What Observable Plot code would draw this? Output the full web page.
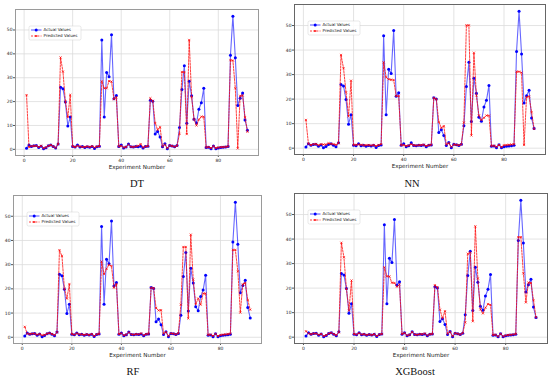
<!DOCTYPE html>
<html>
<head>
<meta charset="utf-8">
<script src="https://cdn.jsdelivr.net/npm/d3@7"></script>
<script src="https://cdn.jsdelivr.net/npm/@observablehq/plot@0.6"></script>
<style>
  html, body { margin: 0; padding: 0; background: #fff; }
  #root { position: relative; width: 550px; height: 379px; background: #fff; overflow: hidden; }
  .panel { position: absolute; }
  .cap { position: absolute; font-family: "Liberation Serif", "Times New Roman", serif; font-size: 10.5px; color: #111; transform: translate(-50%, -50%); white-space: nowrap; }
</style>
</head>
<body>
<div id="root"></div>
<script>
// Experiment numbers 1..92
const experiments = d3.range(1, 93);

const actualValues = [
  0.5, 1.8, 1.2, 1.5, 1.6, 0.8, 1.3, 0.2, 0.7, 1.5,
  1.8, 1.2, 0.6, 2.2, 26.0, 25.4, 19.8, 9.8, 13.6, 1.2,
  1.0, 1.8, 1.0, 1.2, 0.8, 1.1, 0.9, 1.2, 0.3, 1.1,
  1.3, 45.8, 13.6, 32.2, 30.4, 48.0, 21.2, 22.6, 1.2, 1.8,
  0.6, 1.0, 2.2, 1.1, 1.0, 1.2, 1.1, 1.3, 0.6, 1.2,
  1.3, 20.6, 20.1, 6.4, 7.5, 5.2, 1.1, 2.3, 0.2, 1.6,
  1.4, 1.1, 1.6, 9.1, 25.1, 35.0, 10.9, 28.5, 22.4, 12.6,
  11.0, 16.8, 19.5, 25.6, 0.8, 0.9, 0.2, 1.4, 0.2, 0.6,
  0.8, 0.9, 1.0, 1.2, 39.4, 55.8, 38.4, 18.4, 21.4, 23.6,
  12.3, 8.0
];

const predictedDT = [
  22.7, 1.0, 1.3, 1.4, 1.5, 1.0, 1.5, 0.5, 0.8, 1.5,
  1.8, 1.2, 0.7, 2.2, 38.5, 32.5, 20.0, 13.5, 22.8, 1.2,
  1.0, 1.5, 1.2, 1.0, 1.0, 1.2, 1.0, 1.3, 0.8, 1.2,
  1.3, 28.5, 25.6, 25.6, 28.6, 28.4, 21.0, 21.8, 1.2, 1.5,
  0.8, 1.0, 2.0, 1.1, 1.0, 1.2, 1.5, 2.2, 0.8, 1.2,
  1.3, 21.4, 20.3, 11.0, 8.2, 9.3, 1.2, 2.0, 0.5, 1.6,
  1.4, 1.1, 1.5, 6.5, 32.4, 32.4, 6.4, 45.8, 21.9, 12.5,
  10.0, 12.5, 13.7, 13.6, 0.8, 1.0, 0.5, 1.3, 0.5, 0.8,
  0.9, 1.0, 1.0, 1.2, 37.4, 37.2, 25.6, 0.4, 22.4, 22.6,
  13.5, 7.4
];

const predictedNN = [
  11.5, 1.8, 1.3, 1.6, 1.7, 1.2, 1.6, 1.5, 1.5, 2.0,
  1.8, 1.6, 1.4, 2.0, 38.0, 32.6, 22.8, 13.0, 27.5, 1.3,
  1.4, 1.5, 1.4, 1.2, 1.2, 1.3, 1.1, 1.3, 0.9, 1.3,
  1.6, 35.0, 28.9, 28.1, 27.9, 27.8, 21.3, 21.3, 1.2, 1.3,
  0.9, 1.1, 1.6, 1.2, 1.1, 1.2, 1.3, 1.4, 0.9, 1.2,
  1.4, 20.5, 20.0, 10.7, 8.3, 9.0, 1.5, 2.0, 0.6, 1.5,
  1.4, 1.2, 1.5, 10.5, 50.1, 50.1, 5.2, 38.9, 21.5, 13.3,
  11.5, 12.4, 13.3, 13.3, 0.9, 1.0, 0.6, 1.3, 0.5, 1.2,
  1.3, 1.4, 1.5, 1.6, 31.2, 31.2, 30.8, 1.3, 20.8, 21.1,
  14.7, 7.9
];

const predictedRF = [
  4.3, 1.5, 1.3, 1.5, 1.5, 1.1, 1.3, 0.8, 1.0, 1.5,
  1.7, 1.3, 0.9, 2.0, 36.0, 33.6, 20.1, 16.0, 22.0, 1.3,
  1.1, 1.6, 1.2, 1.2, 1.0, 1.2, 1.0, 1.3, 0.6, 1.2,
  1.4, 31.3, 26.1, 28.3, 30.0, 29.4, 20.5, 22.0, 1.3, 1.6,
  0.8, 1.1, 2.0, 1.2, 1.1, 1.3, 1.2, 1.6, 0.8, 1.3,
  1.4, 20.5, 20.3, 12.1, 11.1, 11.2, 1.5, 2.1, 0.6, 1.6,
  1.5, 1.2, 1.6, 13.5, 37.3, 37.3, 7.8, 42.4, 23.8, 13.7,
  16.0, 13.5, 18.1, 18.1, 1.0, 1.1, 0.6, 1.4, 0.5, 0.9,
  1.1, 1.2, 1.3, 1.5, 36.1, 36.1, 27.3, 10.2, 21.9, 22.4,
  15.4, 11.4
];

const predictedXGB = [
  2.4, 1.5, 1.2, 1.5, 1.5, 1.0, 1.3, 0.5, 0.8, 1.5,
  1.8, 1.2, 0.8, 2.0, 38.5, 32.6, 19.7, 10.9, 23.1, 1.3,
  1.1, 1.6, 1.1, 1.2, 0.9, 1.1, 0.9, 1.2, 0.5, 1.1,
  1.3, 28.5, 24.8, 24.8, 22.2, 22.1, 20.6, 21.5, 1.3, 1.7,
  0.7, 1.0, 2.1, 1.1, 1.0, 1.2, 1.2, 1.5, 0.7, 1.2,
  1.3, 21.2, 20.4, 11.2, 7.7, 10.6, 1.4, 2.2, 0.4, 1.6,
  1.4, 1.1, 1.6, 6.0, 34.0, 34.5, 6.5, 45.2, 24.0, 11.3,
  9.7, 12.0, 13.5, 13.2, 0.9, 1.0, 0.3, 1.4, 0.3, 0.7,
  0.9, 1.0, 1.1, 1.3, 40.8, 40.8, 26.0, 14.2, 22.3, 22.1,
  15.1, 8.1
];

const xTicks = [0, 20, 40, 60, 80];
const yTicks = [0, 10, 20, 30, 40, 50];
const modelNames = ["DT", "NN", "RF", "XGBoost"];
const legendLabels = ["Actual Values", "Predicted Values"];
const xLabel = "Experiment Number";

const panels = [
  {name: modelNames[0], pred: predictedDT, left: 0, top: 0, ml: 15, mr: 17, mt: 9, mb: 17, frame: "#9a9a9a", capX: 137, capY: 183},
  {name: modelNames[1], pred: predictedNN, left: 275, top: 0, ml: 19, mr: 5, mt: 4, mb: 18, frame: "#666", capX: 412, capY: 183},
  {name: modelNames[2], pred: predictedRF, left: 0, top: 190, ml: 13, mr: 14, mt: 5, mb: 19, frame: "#9a9a9a", capX: 133, capY: 371},
  {name: modelNames[3], pred: predictedXGB, left: 275, top: 190, ml: 19, mr: 3, mt: 3, mb: 19, frame: "#666", capX: 415, capY: 371}
];

const root = document.getElementById("root");
const W = 275, H = 172;

for (const p of panels) {
  const data = experiments.map((n, i) => ({n, a: actualValues[i], p: p.pred[i]}));
  const all = actualValues.concat(p.pred);
  const [lo, hi] = d3.extent(all);
  const r = hi - lo;
  const xr = experiments[experiments.length - 1] - experiments[0];
  const svg = Plot.plot({
    width: W, height: H,
    marginLeft: p.ml, marginRight: p.mr, marginTop: p.mt, marginBottom: p.mb,
    style: {fontFamily: "DejaVu Sans", fontSize: "4.5px", color: "#222", background: "transparent", overflow: "visible"},
    x: {domain: [experiments[0] - 0.05 * xr, experiments[experiments.length - 1] + 0.05 * xr]},
    y: {domain: [lo - 0.05 * r, hi + 0.05 * r]},
    marks: [
      Plot.gridX(xTicks, {stroke: "#dcdcdc", strokeOpacity: 1, strokeWidth: 0.8}),
      Plot.gridY(yTicks, {stroke: "#dcdcdc", strokeOpacity: 1, strokeWidth: 0.8}),
      Plot.axisX(xTicks, {tickSize: 2, tickPadding: 1.2, fontSize: 4.5, label: null, stroke: "#555"}),
      Plot.axisY(yTicks, {tickSize: 2, tickPadding: 1, fontSize: 4.5, label: null, stroke: "#555"}),
      Plot.line(data, {x: "n", y: "a", stroke: "blue", strokeOpacity: 0.6, strokeWidth: 1.1}),
      Plot.dot(data, {x: "n", y: "a", fill: "blue", r: 1.5}),
      Plot.line(data, {x: "n", y: "p", stroke: "red", strokeOpacity: 0.75, strokeWidth: 1, strokeDasharray: "2,1.2"}),
      Plot.dot(data, {x: "n", y: "p", symbol: "times", stroke: "red", strokeOpacity: 0.85, r: 1.1, strokeWidth: 0.8}),
      Plot.frame({stroke: p.frame, strokeWidth: 1}),
      Plot.text([xLabel], {frameAnchor: "bottom", lineAnchor: "middle", dy: 11.5, fontSize: 5.6, fill: "#222"})
    ]
  });

  // legend
  const g = d3.select(svg).append("g").attr("transform", `translate(${p.ml + 14},${p.mt + 17})`)
    .attr("text-anchor", "start");
  g.append("rect").attr("width", 52).attr("height", 14).attr("rx", 1.5)
    .attr("fill", "#fff").attr("fill-opacity", 0.85).attr("stroke", "#d0d0d0").attr("stroke-width", 0.5);
  g.append("line").attr("x1", 2).attr("x2", 12.5).attr("y1", 4).attr("y2", 4)
    .attr("stroke", "blue").attr("stroke-opacity", 0.6).attr("stroke-width", 1.1);
  g.append("circle").attr("cx", 7.2).attr("cy", 4).attr("r", 1.5).attr("fill", "blue");
  g.append("line").attr("x1", 2).attr("x2", 12.5).attr("y1", 10).attr("y2", 10)
    .attr("stroke", "red").attr("stroke-opacity", 0.75).attr("stroke-width", 1).attr("stroke-dasharray", "2,1.2");
  g.append("path").attr("d", "M6.2,9L8.2,11M6.2,11L8.2,9").attr("stroke", "red").attr("stroke-width", 0.8);
  g.selectAll("text.lg").data(legendLabels).join("text")
    .attr("class", "lg")
    .attr("text-anchor", "start")
    .attr("x", 14.5).attr("y", (d, i) => 4 + i * 6).attr("dy", "0.35em")
    .attr("font-size", 4.1).attr("font-family", "DejaVu Sans").attr("fill", "#222").text(d => d);

  const div = document.createElement("div");
  div.className = "panel";
  div.style.left = p.left + "px";
  div.style.top = p.top + "px";
  div.appendChild(svg);
  root.appendChild(div);

  const cap = document.createElement("div");
  cap.className = "cap";
  cap.style.left = p.capX + "px";
  cap.style.top = p.capY + "px";
  cap.textContent = p.name;
  root.appendChild(cap);
}
</script>
</body>
</html>
